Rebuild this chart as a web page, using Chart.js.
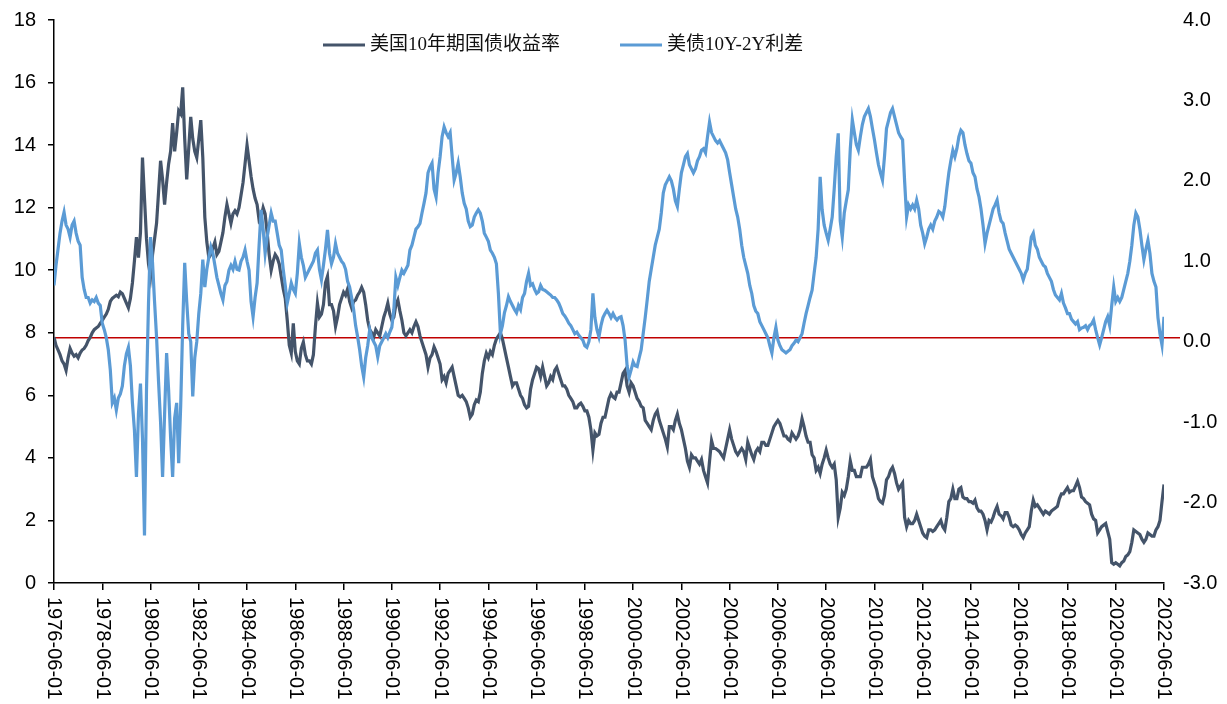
<!DOCTYPE html>
<html>
<head>
<meta charset="utf-8">
<title>美国10年期国债收益率与美债10Y-2Y利差</title>
<script src="https://cdn.jsdelivr.net/npm/chart.js@4.4.1/dist/chart.umd.min.js"></script>
<style>
  html, body { margin: 0; padding: 0; background: #fff; }
  #wrap { width: 1227px; height: 704px; }
</style>
</head>
<body>
<div id="wrap"><canvas id="chart" width="1227" height="704"></canvas></div>
<script>
// monthly readings, 1976-06 .. 2022-06 (one value per month)
var seriesNames = ["美国10年期国债收益率", "美债10Y-2Y利差"];

var tickLabels = [
  "1976-06-01", "1978-06-01", "1980-06-01", "1982-06-01", "1984-06-01", "1986-06-01",
  "1988-06-01", "1990-06-01", "1992-06-01", "1994-06-01", "1996-06-01", "1998-06-01",
  "2000-06-01", "2002-06-01", "2004-06-01", "2006-06-01", "2008-06-01", "2010-06-01",
  "2012-06-01", "2014-06-01", "2016-06-01", "2018-06-01", "2020-06-01", "2022-06-01"
];

// 10Y yield, %
var yield10y = [
  7.86, 7.60, 7.45, 7.30, 7.10, 7.00, 6.80,                               // 1976 Jun-Dec
  7.20, 7.50, 7.35, 7.25, 7.30, 7.20, 7.35, 7.45, 7.50, 7.60, 7.75, 7.85, // 1977
  8.00, 8.10, 8.15, 8.20, 8.30, 8.40, 8.50, 8.60, 8.75, 9.00, 9.10, 9.15, // 1978
  9.20, 9.15, 9.30, 9.25, 9.10, 8.95, 8.80, 9.10, 9.60, 10.30, 11.06, 10.40,
  11.20, 13.60, 12.30, 11.00, 10.20, 9.80, 10.50, 11.00, 11.50, 12.50, 13.50, 12.90, // 1980
  12.10, 12.80, 13.40, 13.80, 14.70, 13.80, 14.40, 15.10, 15.00, 15.85, 14.20, 12.90,
  13.90, 14.90, 14.20, 13.80, 13.60, 14.20, 14.80, 13.60, 11.70, 10.90, 10.40, 10.50,
  10.70, 10.90, 10.50, 10.60, 10.90, 11.20, 11.70, 12.10, 11.80, 11.50, 11.80, 11.90,
  11.80, 12.00, 12.40, 12.80, 13.40, 14.00, 13.50, 13.00, 12.60, 12.30, 12.10, 11.60,
  11.70, 12.00, 11.80, 11.20, 10.50, 10.00, 10.30, 10.50, 10.40, 10.20, 9.80, 9.40,  // 1985
  9.10, 8.40, 7.60, 7.35, 8.30, 7.40, 7.10, 7.00, 7.50, 7.70, 7.30, 7.10,
  7.10, 7.00, 7.30, 8.20, 8.95, 8.50, 8.60, 8.90, 9.60, 9.80, 8.90, 8.90,
  8.70, 8.20, 8.50, 8.90, 9.10, 9.30, 9.20, 9.40, 9.00, 8.80, 9.00, 9.05,
  9.20, 9.30, 9.45, 9.30, 8.90, 8.40, 8.10, 8.00, 7.86, 8.10, 8.00, 7.90,
  8.20, 8.50, 8.70, 8.95, 8.60, 8.40, 8.50, 8.90, 9.05, 8.70, 8.40, 8.00,           // 1990
  7.90, 8.00, 8.10, 8.00, 8.20, 8.35, 8.20, 7.90, 7.70, 7.50, 7.30, 6.90,
  7.20, 7.30, 7.55, 7.40, 7.20, 7.00, 6.50, 6.60, 6.40, 6.70, 6.80, 6.90,
  6.60, 6.30, 6.00, 5.95, 6.00, 5.90, 5.80, 5.60, 5.30, 5.40, 5.70, 5.85,
  5.80, 6.10, 6.70, 7.10, 7.35, 7.20, 7.40, 7.30, 7.60, 7.80, 7.90, 8.00,
  7.80, 7.50, 7.20, 6.90, 6.60, 6.30, 6.40, 6.40, 6.20, 6.00, 5.90, 5.70,           // 1995
  5.60, 5.65, 6.20, 6.50, 6.70, 6.90, 6.85, 6.60, 6.90, 6.60, 6.30, 6.40,
  6.60, 6.50, 6.80, 6.90, 6.70, 6.50, 6.30, 6.30, 6.20, 6.00, 5.90, 5.80,
  5.60, 5.60, 5.70, 5.75, 5.65, 5.50, 5.50, 5.30, 4.90, 4.25, 4.80, 4.70,
  4.75, 5.10, 5.30, 5.30, 5.60, 5.90, 6.05, 5.95, 5.90, 6.10, 6.10, 6.40,
  6.70, 6.80, 6.30, 6.10, 6.40, 6.30, 6.10, 5.90, 5.80, 5.65, 5.60, 5.20,           // 2000
  5.10, 5.00, 4.90, 5.20, 5.40, 5.50, 5.20, 5.00, 4.80, 4.60, 4.35, 5.00,
  5.00, 4.90, 5.20, 5.40, 5.10, 4.90, 4.60, 4.30, 3.90, 3.70, 4.10, 4.00,
  4.00, 3.90, 3.80, 3.95, 3.60, 3.40, 3.20, 3.90, 4.55, 4.30, 4.30, 4.25,
  4.20, 4.10, 4.00, 4.30, 4.60, 4.90, 4.60, 4.40, 4.20, 4.10, 4.20, 4.30,
  4.20, 3.95, 4.50, 4.30, 4.10, 3.95, 4.20, 4.30, 4.20, 4.50, 4.50, 4.40,           // 2005
  4.40, 4.60, 4.80, 5.00, 5.10, 5.20, 5.10, 4.90, 4.70, 4.70, 4.60, 4.55,
  4.80, 4.70, 4.60, 4.70, 4.90, 5.25, 5.00, 4.70, 4.50, 4.50, 4.10, 4.00,
  3.60, 3.70, 3.50, 3.80, 4.00, 4.25, 4.00, 3.80, 3.70, 3.80, 3.30, 2.10,
  2.40, 2.90, 2.80, 3.00, 3.40, 3.90, 3.60, 3.60, 3.40, 3.40, 3.40, 3.70,
  3.70, 3.70, 3.80, 3.95, 3.40, 3.20, 3.00, 2.70, 2.60, 2.55, 2.80, 3.30,           // 2010
  3.40, 3.60, 3.70, 3.50, 3.20, 3.00, 3.10, 3.20, 2.10, 1.80, 2.00, 1.90,
  1.90, 2.00, 2.20, 2.00, 1.80, 1.60, 1.50, 1.45, 1.70, 1.70, 1.65, 1.70,
  1.80, 1.90, 2.00, 1.80, 1.70, 2.10, 2.60, 2.70, 3.00, 2.70, 2.70, 3.00,
  3.05, 2.75, 2.70, 2.70, 2.60, 2.60, 2.55, 2.65, 2.40, 2.30, 2.30, 2.20,
  2.00, 1.70, 2.00, 1.95, 2.10, 2.30, 2.45, 2.20, 2.15, 2.05, 2.25, 2.25,           // 2015
  2.10, 1.85, 1.80, 1.85, 1.80, 1.70, 1.55, 1.45, 1.60, 1.70, 1.80, 2.30,
  2.65, 2.45, 2.50, 2.40, 2.30, 2.20, 2.30, 2.25, 2.20, 2.30, 2.35, 2.40,
  2.45, 2.70, 2.85, 2.85, 2.95, 3.05, 2.90, 2.95, 2.95, 3.10, 3.25, 3.05,
  2.75, 2.70, 2.60, 2.55, 2.50, 2.20, 2.05, 2.00, 1.60, 1.70, 1.80, 1.85,
  1.90, 1.65, 1.40, 0.65, 0.60, 0.65, 0.60, 0.55, 0.65, 0.70, 0.85, 0.90,           // 2020
  1.00, 1.30, 1.70, 1.65, 1.60, 1.55, 1.40, 1.30, 1.40, 1.60, 1.55, 1.50,
  1.50, 1.70, 1.80, 2.00, 2.60, 3.15                                        // 2022 Jan-Jun
];

// 10Y minus 2Y, percentage points
var spread10y2y = [
  0.70, 0.95, 1.15, 1.35, 1.50, 1.61, 1.45,                                 // 1976 Jun-Dec
  1.40, 1.30, 1.45, 1.50, 1.35, 1.25, 1.20, 0.80, 0.65, 0.55, 0.55, 0.48,
  0.52, 0.50, 0.55, 0.48, 0.45, 0.23, 0.15, 0.05, -0.10, -0.35, -0.76, -0.70,
  -0.85, -0.70, -0.65, -0.55, -0.30, -0.15, -0.07, -0.30, -0.76, -1.10, -1.68, -0.90,
  -0.52, -1.20, -2.41, -0.60, 0.48, 1.30, 0.98, 0.50, 0.06, -0.50, -1.00, -1.68, // 1980
  -0.90, -0.14, -0.60, -1.20, -1.68, -0.95, -0.76, -1.51, -0.80, 0.20, 0.98, 0.50,
  0.10, 0.00, -0.68, -0.20, 0.00, 0.35, 0.60, 1.02, 0.68, 0.90, 1.05, 1.18,
  1.10, 0.95, 0.80, 0.70, 0.60, 0.52, 0.70, 0.75, 0.89, 0.95, 0.90, 1.00,
  0.90, 0.89, 1.00, 1.05, 1.14, 1.00, 0.89, 0.50, 0.31, 0.55, 0.73, 1.20,
  1.64, 1.40, 1.10, 1.30, 1.45, 1.60, 1.50, 1.50, 1.35, 1.20, 1.14, 0.90,           // 1985
  0.70, 0.48, 0.60, 0.73, 0.65, 0.60, 0.85, 1.22, 1.05, 0.95, 0.80, 0.85,
  0.90, 0.95, 1.00, 1.10, 1.14, 0.90, 0.77, 0.95, 1.15, 1.39, 1.10, 0.97,
  1.05, 1.22, 1.10, 1.05, 1.00, 0.97, 0.90, 0.75, 0.68, 0.55, 0.40, 0.20,
  0.06, -0.10, -0.30, -0.44, -0.20, -0.05, 0.15, 0.05, 0.00, -0.05, -0.19, -0.05,
  0.00, 0.05, 0.10, 0.05, 0.12, 0.18, 0.40, 0.80, 0.70, 0.80, 0.89, 0.85,           // 1990
  0.90, 0.95, 1.14, 1.20, 1.30, 1.40, 1.43, 1.47, 1.60, 1.72, 1.85, 2.10,
  2.17, 2.22, 1.90, 1.80, 2.10, 2.30, 2.55, 2.67, 2.60, 2.55, 2.60, 2.30,
  2.01, 2.10, 2.22, 2.05, 1.85, 1.72, 1.65, 1.50, 1.43, 1.45, 1.55, 1.60,
  1.64, 1.60, 1.50, 1.35, 1.30, 1.25, 1.14, 1.10, 1.05, 0.97, 0.60, 0.10,
  0.20, 0.36, 0.45, 0.56, 0.50, 0.45, 0.40, 0.36, 0.45, 0.40, 0.55, 0.60,           // 1995
  0.75, 0.85, 0.70, 0.72, 0.65, 0.60, 0.62, 0.70, 0.65, 0.64, 0.62, 0.60,
  0.58, 0.55, 0.55, 0.52, 0.48, 0.42, 0.35, 0.32, 0.28, 0.23, 0.20, 0.15,
  0.10, 0.12, 0.08, 0.05, 0.02, -0.05, -0.07, 0.00, 0.15, 0.60, 0.30, 0.15,
  0.06, 0.20, 0.30, 0.35, 0.39, 0.35, 0.30, 0.35, 0.30, 0.27, 0.30, 0.31,
  0.20, 0.02, -0.30, -0.44, -0.35, -0.25, -0.30, -0.31, -0.20, -0.10, 0.10, 0.30,   // 2000
  0.52, 0.75, 0.90, 1.05, 1.20, 1.30, 1.40, 1.60, 1.85, 1.95, 2.00, 2.05,
  2.00, 1.90, 1.75, 1.68, 1.90, 2.10, 2.20, 2.30, 2.34, 2.20, 2.15, 2.10,
  2.15, 2.25, 2.30, 2.38, 2.40, 2.35, 2.55, 2.73, 2.60, 2.55, 2.50, 2.47,
  2.50, 2.45, 2.40, 2.35, 2.26, 2.10, 1.95, 1.80, 1.65, 1.55, 1.40, 1.20,
  1.05, 0.95, 0.85, 0.70, 0.60, 0.45, 0.38, 0.35, 0.25, 0.20, 0.15, 0.10,           // 2005
  0.05, -0.05, -0.14, 0.05, 0.18, 0.02, -0.05, -0.10, -0.12, -0.14, -0.12, -0.10,
  -0.05, -0.02, 0.02, 0.00, 0.05, 0.10, 0.23, 0.35, 0.45, 0.55, 0.64, 0.85,
  1.05, 1.40, 2.05, 1.64, 1.45, 1.35, 1.26, 1.40, 1.55, 1.90, 2.30, 2.59,
  1.50, 1.30, 1.60, 1.75, 1.89, 2.40, 2.76, 2.60, 2.45, 2.38, 2.55, 2.70,
  2.80, 2.85, 2.90, 2.80, 2.65, 2.51, 2.35, 2.20, 2.10, 2.01, 2.30, 2.65,           // 2010
  2.75, 2.85, 2.90, 2.80, 2.70, 2.60, 2.55, 2.51, 2.00, 1.55, 1.70, 1.65,
  1.70, 1.65, 1.76, 1.65, 1.45, 1.35, 1.22, 1.30, 1.40, 1.45, 1.40, 1.50,
  1.55, 1.62, 1.60, 1.55, 1.68, 1.90, 2.10, 2.25, 2.38, 2.30, 2.40, 2.55,
  2.63, 2.60, 2.45, 2.34, 2.25, 2.22, 2.10, 2.05, 1.90, 1.80, 1.65, 1.45,
  1.22, 1.35, 1.45, 1.55, 1.65, 1.70, 1.76, 1.60, 1.50, 1.47, 1.35, 1.25,           // 2015
  1.15, 1.10, 1.05, 1.00, 0.95, 0.90, 0.85, 0.77, 0.85, 0.90, 1.10, 1.30,
  1.35, 1.20, 1.15, 1.05, 1.00, 0.95, 0.93, 0.85, 0.80, 0.75, 0.65, 0.58,
  0.55, 0.52, 0.60, 0.48, 0.42, 0.35, 0.35, 0.28, 0.25, 0.22, 0.25, 0.15,
  0.17, 0.18, 0.20, 0.15, 0.20, 0.22, 0.27, 0.15, 0.05, -0.04, 0.05, 0.15,
  0.25, 0.31, 0.20, 0.45, 0.68, 0.50, 0.55, 0.50, 0.55, 0.65, 0.75, 0.85,           // 2020
  1.00, 1.20, 1.45, 1.60, 1.55, 1.40, 1.20, 1.02, 1.15, 1.26, 1.10, 0.85,
  0.75, 0.68, 0.30, 0.10, -0.04, 0.31                                       // 2022 Jan-Jun
];

// level of the red reference line, on the spread axis
var refLevel = 0.05;

var colors = ["#44546a", "#5b9bd5"];
var numFont = '"Liberation Sans", Arial, sans-serif';
var legendFont = '19px "Liberation Serif", "Noto Sans CJK SC", serif';

function toPoints(values) {
  return values.map(function (v, i) { return { x: i, y: v }; });
}

// vertical axes: fixed width, no extra padding above/below the plot
function fixWidth(w) {
  return function (s) {
    s.width = w;
    s.paddingTop = 0;
    s.paddingBottom = 0;
  };
}

// red reference line, rotated date labels and the legend
var decorations = {
  id: "decorations",
  beforeDatasetsDraw: function (chart) {
    var ctx = chart.ctx, area = chart.chartArea;
    var y = chart.scales.y2.getPixelForValue(refLevel);
    ctx.save();
    ctx.strokeStyle = "#c00000";
    ctx.lineWidth = 1.5;
    ctx.beginPath();
    ctx.moveTo(area.left, y);
    ctx.lineTo(area.right + 16, y);
    ctx.stroke();
    ctx.restore();
  },
  afterDraw: function (chart) {
    var ctx = chart.ctx, xs = chart.scales.x;
    ctx.save();
    ctx.fillStyle = "#000";
    ctx.font = "20px " + numFont;
    ctx.textAlign = "left";
    ctx.textBaseline = "middle";
    xs.ticks.forEach(function (t) {
      var px = xs.getPixelForValue(t.value);
      ctx.save();
      ctx.translate(px, xs.top + 14);
      ctx.rotate(Math.PI / 2);
      ctx.fillText(tickLabels[Math.round(t.value / 24)], 0, 0);
      ctx.restore();
    });

    var legendX = [323, 620], legendY = 45;
    ctx.font = legendFont;
    chart.data.datasets.forEach(function (ds, i) {
      var x = legendX[i];
      ctx.strokeStyle = ds.borderColor;
      ctx.lineWidth = 3;
      ctx.beginPath();
      ctx.moveTo(x, legendY);
      ctx.lineTo(x + 42, legendY);
      ctx.stroke();
      ctx.fillStyle = "#111";
      ctx.fillText(ds.label, x + 47, legendY);
    });
    ctx.restore();
  }
};

new Chart(document.getElementById("chart").getContext("2d"), {
  type: "line",
  data: {
    datasets: [
      {
        label: seriesNames[0],
        data: toPoints(yield10y),
        yAxisID: "y",
        borderColor: colors[0],
        borderWidth: 3.2,
        pointRadius: 0,
        tension: 0,
        order: 1
      },
      {
        label: seriesNames[1],
        data: toPoints(spread10y2y),
        yAxisID: "y2",
        borderColor: colors[1],
        borderWidth: 3.2,
        pointRadius: 0,
        tension: 0,
        order: 0
      }
    ]
  },
  options: {
    responsive: false,
    animation: false,
    devicePixelRatio: 1,
    layout: { padding: { top: 20, left: 0, right: 0, bottom: 0 } },
    plugins: { legend: { display: false }, tooltip: { enabled: false } },
    scales: {
      x: {
        type: "linear",
        min: 0,
        max: yield10y.length - 1,
        afterBuildTicks: function (s) {
          s.ticks = tickLabels.map(function (_, i) { return { value: i * 24 }; });
        },
        afterFit: function (s) { s.height = 121; },
        ticks: { display: false },
        grid: { drawOnChartArea: false, drawTicks: true, tickLength: 7, color: "#000", lineWidth: 1.5 },
        border: { display: true, color: "#000", width: 1.5 }
      },
      y: {
        position: "left",
        min: 0,
        max: 18,
        afterFit: fixWidth(54),
        ticks: { stepSize: 2, color: "#000", padding: 12, font: { size: 20, family: numFont } },
        grid: { drawOnChartArea: false, tickLength: 6, color: "#000", lineWidth: 1.5 },
        border: { display: true, color: "#000", width: 1.5 }
      },
      y2: {
        position: "right",
        min: -3,
        max: 4,
        afterFit: fixWidth(63),
        ticks: {
          stepSize: 1,
          color: "#000",
          padding: 19,
          font: { size: 20, family: numFont },
          callback: function (v) { return v.toFixed(1); }
        },
        grid: { display: false, drawTicks: false },
        border: { display: false }
      }
    }
  },
  plugins: [decorations]
});
</script>
</body>
</html>
